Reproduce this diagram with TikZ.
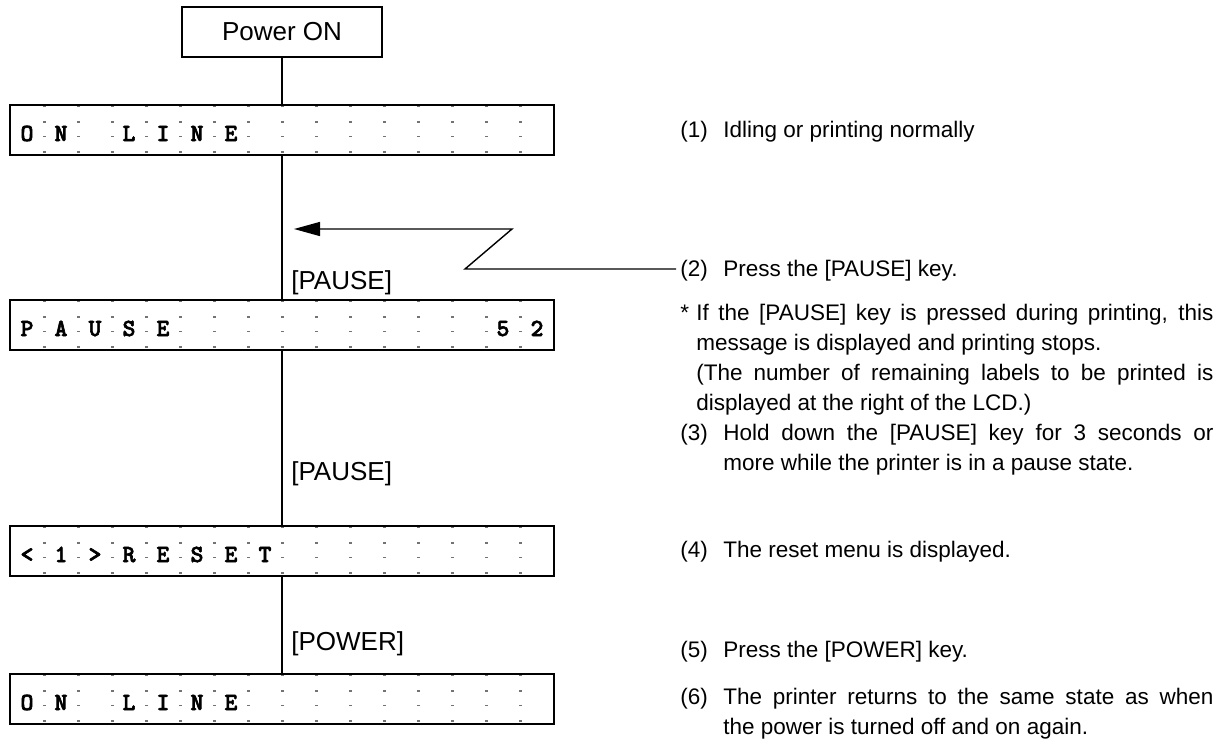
\documentclass[tikz,border=0pt]{standalone}
\usepackage{fontspec}
\setmainfont{Liberation Sans}
\newfontfamily\lcdfont{lmmonolt10-bold.otf}[FakeBold=2.5]
\usetikzlibrary{arrows.meta}
\tikzset{
  lcdbox/.style={rectangle, draw, line width=2pt, minimum width=13.6cm, minimum height=1.25cm, inner sep=0pt},
  lcdchar/.style={anchor=base, inner sep=0pt, font=\lcdfont\fontsize{17.5}{18}\selectfont},
  lcddot/.style={fill=black!55},
  powerbox/.style={rectangle, draw, line width=1.6pt, minimum width=5cm, minimum height=1.25cm,
                   font=\fontsize{18.5}{21}\selectfont},
  keylabel/.style={anchor=base west, inner sep=0pt, font=\fontsize{18.5}{21}\selectfont},
  note/.style={anchor=base west, inner sep=0pt, font=\fontsize{16}{21.3}\selectfont},
  link/.style={line width=1.5pt},
  callout/.style={line width=1pt, -{Triangle[length=0.65cm, width=0.35cm]}},
}
% LCD panel: name, top edge, cell/character pairs
\newcommand{\lcdrow}[3]{%
  \node[lcdbox] (#1) at (282,#2+25) {};
  \foreach \k in {1,...,15}
    \foreach \dy in {1.5,17,31.5,47}
      \fill[lcddot] (10+34*\k-1.5,#2+\dy-0.6) rectangle ++(3,1.2);
  \foreach \i/\ch in {#3}
    \node[lcdchar] (#1c\i) at (34*\i-7,#2+36) {\ch};
}

\begin{document}
\begin{tikzpicture}[x=0.025cm, y=-0.025cm]
  \useasboundingbox (0,0) rectangle (1225,744);
  \node[powerbox] (power) at (282,32) {Power ON};
  \lcdrow{lcd1}{105}{1/O,2/N,4/L,5/I,6/N,7/E}
  \lcdrow{lcd2}{300}{1/P,2/A,3/U,4/S,5/E,15/5,16/2}
  \lcdrow{lcd3}{526}{1/<,2/1,3/>,4/R,5/E,6/S,7/E,8/T}
  \lcdrow{lcd4}{674}{1/O,2/N,4/L,5/I,6/N,7/E}
  \draw[link] (power) -- (lcd1);
  \draw[link] (lcd1) -- (lcd2);
  \draw[link] (lcd2) -- (lcd3);
  \draw[link] (lcd3) -- (lcd4);
  % key labels
  \node[keylabel] (key1) at (291,289) {[PAUSE]};
  \node[keylabel] (key2) at (291,480) {[PAUSE]};
  \node[keylabel] (key3) at (291,650) {[POWER]};
  % notes on the right
  \node[note] (n1) at (680,137) {(1)};
  \node[note] (t1) at (723,137) {Idling or printing normally};
  \node[note] (n2) at (680,276) {(2)};
  \node[note] (t2) at (723,276) {Press the [PAUSE] key.};
  \node[note] (star) at (680,320) {*};
  \node[note] (t2a) at (696,320) {\makebox[12.925cm][s]{If the [PAUSE] key is pressed during printing, this}};
  \node[note] (t2b) at (696,350) {message is displayed and printing stops.};
  \node[note] (t2c) at (696,380) {\makebox[12.925cm][s]{(The number of remaining labels to be printed is}};
  \node[note] (t2d) at (696,410) {displayed at the right of the LCD.)};
  \node[note] (n3) at (680,440) {(3)};
  \node[note] (t3a) at (723,440) {\makebox[12.25cm][s]{Hold down the [PAUSE] key for 3 seconds or}};
  \node[note] (t3b) at (723,470) {more while the printer is in a pause state.};
  \node[note] (n4) at (680,557) {(4)};
  \node[note] (t4) at (723,557) {The reset menu is displayed.};
  \node[note] (n5) at (680,657) {(5)};
  \node[note] (t5) at (723,657) {Press the [POWER] key.};
  \node[note] (n6) at (680,704) {(6)};
  \node[note] (t6a) at (723,704) {\makebox[12.25cm][s]{The printer returns to the same state as when}};
  \node[note] (t6b) at (723,734) {the power is turned off and on again.};
  % callout from note (2) to the line
  \coordinate (zlow) at (465,269);
  \coordinate (zhigh) at (512,229);
  \coordinate (ztip) at (294,229);
  \coordinate (zend) at ([xshift=-0.1cm]n2.west);
  \draw[callout] (zend |- zlow) -- (zlow) -- (zhigh) -- (ztip);
\end{tikzpicture}
\end{document}
